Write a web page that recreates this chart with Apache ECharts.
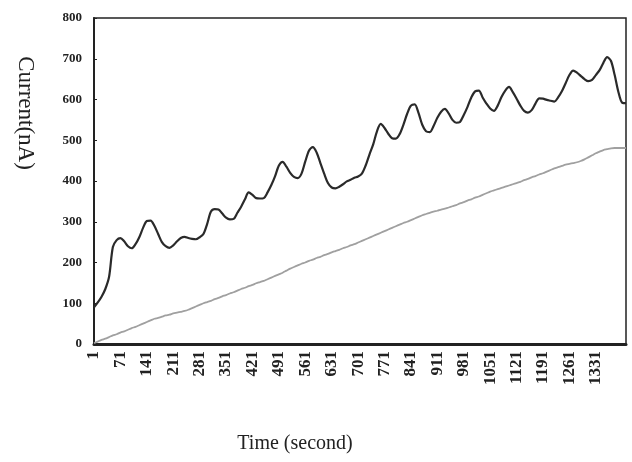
<!DOCTYPE html>
<html>
<head>
<meta charset="utf-8">
<script src="https://cdn.jsdelivr.net/npm/echarts@6/dist/echarts.min.js"></script>
<style>html,body{margin:0;padding:0;background:#fff;}#c{width:632px;height:462px;}</style>
</head>
<body>
<div id="c"></div>
<script>
// Time samples every 10 s, starting at 1 s
const timeLabels = [];
for (let i = 0; i < 142; i++) timeLabels.push(String(1 + 10 * i));
// Tick labels shown on the time axis
const shownTimeLabels = ['1','71','141','211','281','351','421','491','561','631','701','771','841','911','981','1051','1121','1191','1261','1331'];

// Black trace (upper curve), nA
const currentUpper = [
  90,102,116,135,165,238,255,260,252,240,
  235,245,262,285,302,303,290,270,250,240,
  236,242,252,260,263,260,258,257,262,270,
  295,325,331,330,320,310,306,307,322,337,
  355,372,366,358,357,358,372,390,412,438,
  447,435,420,410,407,418,448,475,483,470,
  444,418,395,384,382,386,392,399,403,408,
  411,418,438,465,490,522,540,530,516,505,
  504,515,538,565,585,588,567,538,522,520,
  535,555,570,577,566,550,543,545,562,582,
  605,620,622,605,590,578,572,585,606,622,
  631,618,602,585,572,568,574,590,603,602,
  599,597,595,605,620,640,660,671,666,658,
  650,645,648,660,672,690,704,695,660,618,
  592,591
];

// Grey trace (lower curve), nA
const currentLower = [
  2,6,10,13,17,21,24,28,31,35,
  39,42,46,50,54,58,62,64,67,70,
  72,75,77,79,81,84,88,92,96,100,
  103,106,110,113,117,120,124,127,131,135,
  138,142,145,149,152,155,159,163,167,171,
  175,180,185,189,193,197,200,204,207,211,
  214,218,221,225,228,231,235,238,242,245,
  249,253,257,261,265,269,273,277,281,285,
  289,293,297,300,304,308,312,316,319,322,
  325,327,330,332,335,338,341,345,348,352,
  355,359,362,366,370,374,377,380,383,386,
  389,392,395,398,402,405,409,412,416,419,
  423,427,431,434,437,440,442,444,446,449,
  453,458,463,468,472,476,478,480,481,481,
  481,481
];

const chart = echarts.init(document.getElementById('c'), null, {renderer: 'canvas'});
chart.setOption({
  animation: false,
  backgroundColor: '#fff',
  grid: {left: 94, right: 6, top: 18, bottom: 118, show: true, borderColor: '#222', borderWidth: 1.5},
  xAxis: {
    type: 'category',
    data: timeLabels,
    boundaryGap: false,
    axisLine: {lineStyle: {color: '#222', width: 3}},
    axisTick: {show: false},
    axisLabel: {
      interval: function (idx, val) { return shownTimeLabels.indexOf(val) !== -1; },
      rotate: 90, margin: 7,
      fontFamily: 'Liberation Serif', fontSize: 17, fontWeight: 'bold', color: '#222'
    },
    splitLine: {show: false}
  },
  yAxis: {
    type: 'value',
    min: 0, max: 800, interval: 100,
    axisLine: {show: true, lineStyle: {color: '#222', width: 2}},
    axisTick: {show: true, inside: true, length: 3, lineStyle: {color: '#222'}},
    axisLabel: {margin: 12, fontFamily: 'Liberation Serif', fontSize: 13, fontWeight: 'bold', color: '#222'},
    splitLine: {show: false}
  },
  series: [
    {type: 'line', data: currentUpper, showSymbol: false, smooth: 0.3,
     lineStyle: {color: '#2a2a2a', width: 2.2}},
    {type: 'line', data: currentLower, showSymbol: false, smooth: 0.3,
     lineStyle: {color: '#a0a0a0', width: 1.8}}
  ],
  graphic: [
    {type: 'text', x: 25, y: 113, rotation: -Math.PI / 2,
     style: {text: 'Current(nA)', fontFamily: 'Liberation Serif', fontSize: 23, fill: '#222',
             textAlign: 'center', textVerticalAlign: 'middle'}},
    {type: 'text', x: 295, y: 444,
     style: {text: 'Time (second)', fontFamily: 'Liberation Serif', fontSize: 20, fill: '#222',
             textAlign: 'center', textVerticalAlign: 'middle'}}
  ]
});
</script>
</body>
</html>
